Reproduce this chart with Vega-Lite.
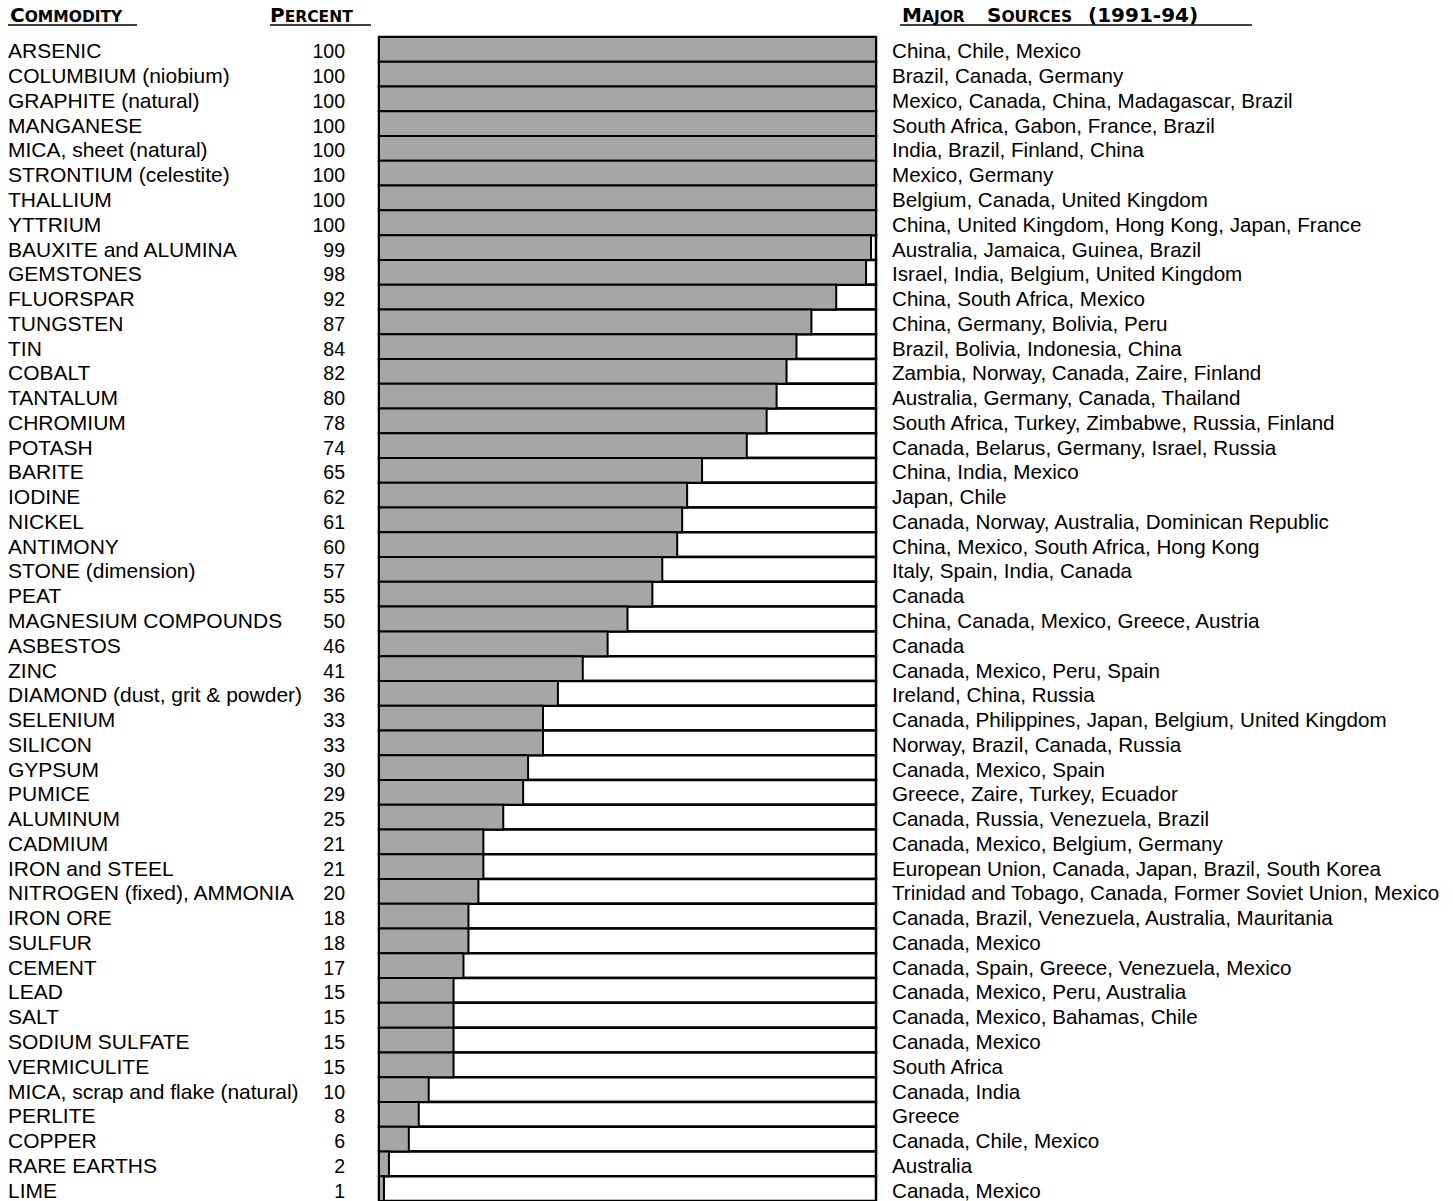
{
  "$schema": "https://vega.github.io/schema/vega-lite/v6.json",
  "width": 1453,
  "height": 1164,
  "autosize": {"type": "none"},
  "padding": {"top": 37, "left": 0, "right": 0, "bottom": 0},
  "background": "white",
  "config": {"view": {"stroke": null}, "text": {"font": "Liberation Sans", "color": "#000000"}},
  "data": {"values": [
    {"commodity": "ARSENIC", "pct": 100, "sources": "China, Chile, Mexico"},
    {"commodity": "COLUMBIUM (niobium)", "pct": 100, "sources": "Brazil, Canada, Germany"},
    {"commodity": "GRAPHITE (natural)", "pct": 100, "sources": "Mexico, Canada, China, Madagascar, Brazil"},
    {"commodity": "MANGANESE", "pct": 100, "sources": "South Africa, Gabon, France, Brazil"},
    {"commodity": "MICA, sheet (natural)", "pct": 100, "sources": "India, Brazil, Finland, China"},
    {"commodity": "STRONTIUM (celestite)", "pct": 100, "sources": "Mexico, Germany"},
    {"commodity": "THALLIUM", "pct": 100, "sources": "Belgium, Canada, United Kingdom"},
    {"commodity": "YTTRIUM", "pct": 100, "sources": "China, United Kingdom, Hong Kong, Japan, France"},
    {"commodity": "BAUXITE and ALUMINA", "pct": 99, "sources": "Australia, Jamaica, Guinea, Brazil"},
    {"commodity": "GEMSTONES", "pct": 98, "sources": "Israel, India, Belgium, United Kingdom"},
    {"commodity": "FLUORSPAR", "pct": 92, "sources": "China, South Africa, Mexico"},
    {"commodity": "TUNGSTEN", "pct": 87, "sources": "China, Germany, Bolivia, Peru"},
    {"commodity": "TIN", "pct": 84, "sources": "Brazil, Bolivia, Indonesia, China"},
    {"commodity": "COBALT", "pct": 82, "sources": "Zambia, Norway, Canada, Zaire, Finland"},
    {"commodity": "TANTALUM", "pct": 80, "sources": "Australia, Germany, Canada, Thailand"},
    {"commodity": "CHROMIUM", "pct": 78, "sources": "South Africa, Turkey, Zimbabwe, Russia, Finland"},
    {"commodity": "POTASH", "pct": 74, "sources": "Canada, Belarus, Germany, Israel, Russia"},
    {"commodity": "BARITE", "pct": 65, "sources": "China, India, Mexico"},
    {"commodity": "IODINE", "pct": 62, "sources": "Japan, Chile"},
    {"commodity": "NICKEL", "pct": 61, "sources": "Canada, Norway, Australia, Dominican Republic"},
    {"commodity": "ANTIMONY", "pct": 60, "sources": "China, Mexico, South Africa, Hong Kong"},
    {"commodity": "STONE (dimension)", "pct": 57, "sources": "Italy, Spain, India, Canada"},
    {"commodity": "PEAT", "pct": 55, "sources": "Canada"},
    {"commodity": "MAGNESIUM COMPOUNDS", "pct": 50, "sources": "China, Canada, Mexico, Greece, Austria"},
    {"commodity": "ASBESTOS", "pct": 46, "sources": "Canada"},
    {"commodity": "ZINC", "pct": 41, "sources": "Canada, Mexico, Peru, Spain"},
    {"commodity": "DIAMOND (dust, grit & powder)", "pct": 36, "sources": "Ireland, China, Russia"},
    {"commodity": "SELENIUM", "pct": 33, "sources": "Canada, Philippines, Japan, Belgium, United Kingdom"},
    {"commodity": "SILICON", "pct": 33, "sources": "Norway, Brazil, Canada, Russia"},
    {"commodity": "GYPSUM", "pct": 30, "sources": "Canada, Mexico, Spain"},
    {"commodity": "PUMICE", "pct": 29, "sources": "Greece, Zaire, Turkey, Ecuador"},
    {"commodity": "ALUMINUM", "pct": 25, "sources": "Canada, Russia, Venezuela, Brazil"},
    {"commodity": "CADMIUM", "pct": 21, "sources": "Canada, Mexico, Belgium, Germany"},
    {"commodity": "IRON and STEEL", "pct": 21, "sources": "European Union, Canada, Japan, Brazil, South Korea"},
    {"commodity": "NITROGEN (fixed), AMMONIA", "pct": 20, "sources": "Trinidad and Tobago, Canada, Former Soviet Union, Mexico"},
    {"commodity": "IRON ORE", "pct": 18, "sources": "Canada, Brazil, Venezuela, Australia, Mauritania"},
    {"commodity": "SULFUR", "pct": 18, "sources": "Canada, Mexico"},
    {"commodity": "CEMENT", "pct": 17, "sources": "Canada, Spain, Greece, Venezuela, Mexico"},
    {"commodity": "LEAD", "pct": 15, "sources": "Canada, Mexico, Peru, Australia"},
    {"commodity": "SALT", "pct": 15, "sources": "Canada, Mexico, Bahamas, Chile"},
    {"commodity": "SODIUM SULFATE", "pct": 15, "sources": "Canada, Mexico"},
    {"commodity": "VERMICULITE", "pct": 15, "sources": "South Africa"},
    {"commodity": "MICA, scrap and flake (natural)", "pct": 10, "sources": "Canada, India"},
    {"commodity": "PERLITE", "pct": 8, "sources": "Greece"},
    {"commodity": "COPPER", "pct": 6, "sources": "Canada, Chile, Mexico"},
    {"commodity": "RARE EARTHS", "pct": 2, "sources": "Australia"},
    {"commodity": "LIME", "pct": 1, "sources": "Canada, Mexico"}
  ]},
  "encoding": {
    "y": {"field": "commodity", "type": "nominal", "sort": null, "axis": null, "scale": {"paddingInner": 0, "paddingOuter": 0}}
  },
  "layer": [
    {
      "mark": {"type": "bar", "fill": "white", "stroke": "black", "strokeWidth": 2.5},
      "encoding": {
        "x": {"datum": 100, "type": "quantitative", "scale": {"domain": [0, 100], "range": [379, 876], "nice": false, "zero": false}, "axis": null}
      }
    },
    {
      "mark": {"type": "bar", "fill": "#a6a6a6", "stroke": "black", "strokeWidth": 2},
      "encoding": {
        "x": {"field": "pct", "type": "quantitative"}
      }
    },
    {
      "mark": {"type": "text", "align": "left", "baseline": "alphabetic", "dy": 9, "fontSize": 21},
      "encoding": {
        "x": {"datum": -74.65, "type": "quantitative"},
        "text": {"field": "commodity", "type": "nominal"}
      }
    },
    {
      "mark": {"type": "text", "align": "right", "baseline": "alphabetic", "dy": 9, "fontSize": 19.5},
      "encoding": {
        "x": {"datum": -6.84, "type": "quantitative"},
        "text": {"field": "pct", "type": "quantitative"}
      }
    },
    {
      "mark": {"type": "text", "align": "left", "baseline": "alphabetic", "dy": 9, "fontSize": 20.6},
      "encoding": {
        "x": {"datum": 103.22, "type": "quantitative"},
        "text": {"field": "sources", "type": "nominal"}
      }
    },
    {
      "transform": [{"filter": "datum.commodity === 'ARSENIC'"}],
      "layer": [
        {"mark": {"type": "text", "align": "left", "baseline": "alphabetic", "dy": -27.4, "fontSize": 20, "font": "DejaVu Sans", "fontWeight": "bold", "text": "C"},
         "encoding": {"x": {"datum": -74.25, "type": "quantitative"}}},
        {"mark": {"type": "text", "align": "left", "baseline": "alphabetic", "dy": -27.4, "fontSize": 15.5, "font": "DejaVu Sans", "fontWeight": "bold", "text": "OMMODITY"},
         "encoding": {"x": {"datum": -71.29, "type": "quantitative"}}},
        {"mark": {"type": "text", "align": "left", "baseline": "alphabetic", "dy": -27.4, "fontSize": 20, "font": "DejaVu Sans", "fontWeight": "bold", "text": "P"},
         "encoding": {"x": {"datum": -21.93, "type": "quantitative"}}},
        {"mark": {"type": "text", "align": "left", "baseline": "alphabetic", "dy": -27.4, "fontSize": 15.5, "font": "DejaVu Sans", "fontWeight": "bold", "text": "ERCENT"},
         "encoding": {"x": {"datum": -18.97, "type": "quantitative"}}},
        {"mark": {"type": "text", "align": "left", "baseline": "alphabetic", "dy": -27.4, "fontSize": 20, "font": "DejaVu Sans", "fontWeight": "bold", "text": "M"},
         "encoding": {"x": {"datum": 105.23, "type": "quantitative"}}},
        {"mark": {"type": "text", "align": "left", "baseline": "alphabetic", "dy": -27.4, "fontSize": 15.5, "font": "DejaVu Sans", "fontWeight": "bold", "text": "AJOR"},
         "encoding": {"x": {"datum": 109.24, "type": "quantitative"}}},
        {"mark": {"type": "text", "align": "left", "baseline": "alphabetic", "dy": -27.4, "fontSize": 20, "font": "DejaVu Sans", "fontWeight": "bold", "text": "S"},
         "encoding": {"x": {"datum": 122.33, "type": "quantitative"}}},
        {"mark": {"type": "text", "align": "left", "baseline": "alphabetic", "dy": -27.4, "fontSize": 15.5, "font": "DejaVu Sans", "fontWeight": "bold", "text": "OURCES"},
         "encoding": {"x": {"datum": 125.23, "type": "quantitative"}}},
        {"mark": {"type": "text", "align": "left", "baseline": "alphabetic", "dy": -27.4, "fontSize": 20, "font": "DejaVu Sans", "fontWeight": "bold", "text": "(1991-94)"},
         "encoding": {"x": {"datum": 142.66, "type": "quantitative"}}},
        {"mark": {"type": "rule", "color": "#000000", "strokeWidth": 1.5, "yOffset": -24.5},
         "encoding": {"x": {"datum": -74.65, "type": "quantitative"}, "x2": {"datum": -48.69}}},
        {"mark": {"type": "rule", "color": "#000000", "strokeWidth": 1.5, "yOffset": -24.5},
         "encoding": {"x": {"datum": -21.93, "type": "quantitative"}, "x2": {"datum": -1.61}}},
        {"mark": {"type": "rule", "color": "#000000", "strokeWidth": 1.5, "yOffset": -24.5},
         "encoding": {"x": {"datum": 104.83, "type": "quantitative"}, "x2": {"datum": 175.65}}}
      ]
    }
  ]
}
